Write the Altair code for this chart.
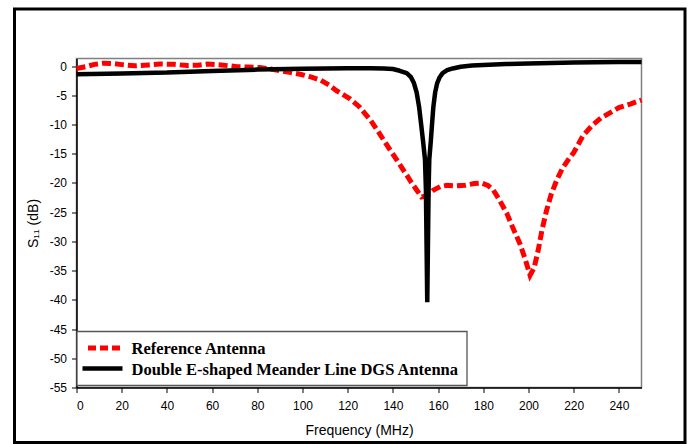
import altair as alt
import pandas as pd

# ---- data ----
ref_freq = [0, 4, 8, 12, 16, 20, 26, 32, 37, 43, 49, 54, 58, 64, 71, 76, 81, 86, 90, 95,
            99, 104, 108, 112, 115, 118, 121, 125, 130, 134, 139, 142, 145, 148, 150.5,
            152.7, 155, 158, 161, 164, 168, 172, 176, 179.3, 182, 184.4, 187, 190.4, 193,
            196.2, 198.5, 200.7, 202.5, 204.3, 206, 208, 210, 212.5, 215, 218, 220, 224,
            228, 232, 236, 240, 245, 250]
ref_s11 = [-0.4, -0.1, 0.3, 0.5, 0.45, 0.25, 0.05, 0.2, 0.35, 0.3, 0.1, 0.15, 0.35, 0.2,
           -0.1, -0.15, -0.25, -0.5, -0.8, -1.1, -1.4, -1.9, -2.4, -3.3, -4.2, -4.9, -5.6,
           -6.9, -9.2, -11.5, -14.5, -16.2, -18.0, -19.8, -21.2, -22.4, -22.2, -21.2, -20.6,
           -20.4, -20.5, -20.4, -20.1, -20.0, -20.4, -21.2, -22.8, -25.2, -27.6, -30.4,
           -33.0, -35.8, -34.5, -31.5, -28.0, -24.7, -22.0, -19.5, -17.5, -15.8, -14.8,
           -12.0, -10.2, -8.9, -8.0, -7.1, -6.5, -5.8]

dgs_freq = [0, 20, 40, 60, 80, 100, 120, 130, 136, 140, 143, 146.1, 148, 149.3, 150.5,
            151.6, 152.5, 153.3, 154.2, 154.6, 155.2, 155.8, 156.1, 156.8, 157.4, 157.9,
            158.7, 159.6, 160.7, 162, 164, 166.5, 170, 175, 180, 190, 200, 210, 220, 230,
            240, 250]
dgs_s11 = [-1.4, -1.25, -1.1, -0.85, -0.6, -0.45, -0.35, -0.35, -0.4, -0.5, -0.8, -1.2,
           -1.9, -2.9, -4.5, -7.0, -10.0, -12.7, -16.0, -21.0, -40.4, -21.0, -16.0, -12.7,
           -9.5, -7.0, -4.5, -2.9, -1.9, -1.2, -0.7, -0.4, -0.1, 0.1, 0.2, 0.35, 0.45, 0.55,
           0.6, 0.65, 0.7, 0.7]

x_ticks = [0, 20, 40, 60, 80, 100, 120, 140, 160, 180, 200, 220, 240]
y_ticks = [-55, -50, -45, -40, -35, -30, -25, -20, -15, -10, -5, 0]
legend_labels = ["Reference Antenna", "Double E-shaped Meander Line DGS Antenna"]

ref_df = pd.DataFrame({"f": ref_freq, "s": ref_s11})
dgs_df = pd.DataFrame({"f": dgs_freq, "s": dgs_s11})
one = pd.DataFrame({"k": [0]})

W, H = 565, 329

x_scale = alt.Scale(domain=[0, 250], nice=False, zero=False)
y_scale = alt.Scale(domain=[-55, 1.3], nice=False, zero=False)

x_axis = alt.Axis(
    title="Frequency (MHz)", values=x_ticks, labelExpr="'' + datum.value", grid=False,
    domainColor="black", domainWidth=1.5, tickColor="black", tickSize=5, tickWidth=1,
    labelFont="Liberation Sans", labelFontSize=12, labelColor="black", labelPadding=8,
    titleFont="Liberation Sans", titleFontSize=14, titleFontWeight="normal",
    titleColor="black", titleBaseline="middle", titleY=43,
)
y_axis = alt.Axis(
    title="S₁₁ (dB)", values=y_ticks, labelExpr="'' + datum.value", grid=False,
    domainColor="black", domainWidth=1.5, tickColor="black", tickSize=5, tickWidth=1,
    labelFont="Liberation Sans", labelFontSize=12, labelColor="black", labelPadding=5,
    titleFont="Liberation Sans", titleFontSize=14, titleFontWeight="normal",
    titleColor="black", titleAngle=270, titleAlign="center", titleBaseline="middle",
    titleX=-43, titleY=H / 2,
)

ref_line = alt.Chart(ref_df).mark_line(
    color="#FF0000", strokeWidth=5, strokeDash=[9, 4]
).encode(
    x=alt.X("f:Q", scale=x_scale, axis=x_axis),
    y=alt.Y("s:Q", scale=y_scale, axis=y_axis),
)

dgs_line = alt.Chart(dgs_df).mark_line(
    color="black", strokeWidth=4.5, strokeJoin="bevel"
).encode(
    x=alt.X("f:Q", scale=x_scale, axis=x_axis),
    y=alt.Y("s:Q", scale=y_scale, axis=y_axis),
)

# outer frame around the whole figure
outer = alt.Chart(one).mark_rect(
    fill=None, stroke="black", strokeWidth=3
).encode(
    x=alt.value(-62), x2=alt.value(608.5), y=alt.value(-49.5), y2=alt.value(384)
)

# legend box
leg_box = alt.Chart(one).mark_rect(
    fill="white", stroke="#555555", strokeWidth=1.3
).encode(
    x=alt.value(0.5), x2=alt.value(390.5), y=alt.value(273), y2=alt.value(327)
)
leg_red = alt.Chart(one).mark_rule(
    color="#FF0000", strokeWidth=5, strokeDash=[8, 4]
).encode(x=alt.value(11.5), x2=alt.value(45.5), y=alt.value(289.5))
leg_black = alt.Chart(one).mark_rule(
    color="black", strokeWidth=4.5
).encode(x=alt.value(6), x2=alt.value(46), y=alt.value(310))

txt_style = dict(font="Liberation Serif", fontSize=16.5, fontWeight="bold",
                 align="left", baseline="middle", color="black")
leg_t1 = alt.Chart(one).mark_text(**txt_style).encode(
    x=alt.value(55), y=alt.value(290), text=alt.value(legend_labels[0]))
leg_t2 = alt.Chart(one).mark_text(**txt_style).encode(
    x=alt.value(55), y=alt.value(311), text=alt.value(legend_labels[1]))

chart = alt.layer(
    ref_line, dgs_line, outer, leg_box, leg_red, leg_black, leg_t1, leg_t2
).properties(
    width=W, height=H,
    padding={"left": 76.5, "top": 58.5, "right": 49.5, "bottom": 56.5},
    autosize=alt.AutoSizeParams(type="none"),
    background="white",
).configure_view(
    stroke="#808080", strokeWidth=1.5
)

chart.save("out.html", embed_options={"renderer": "svg", "actions": False})
